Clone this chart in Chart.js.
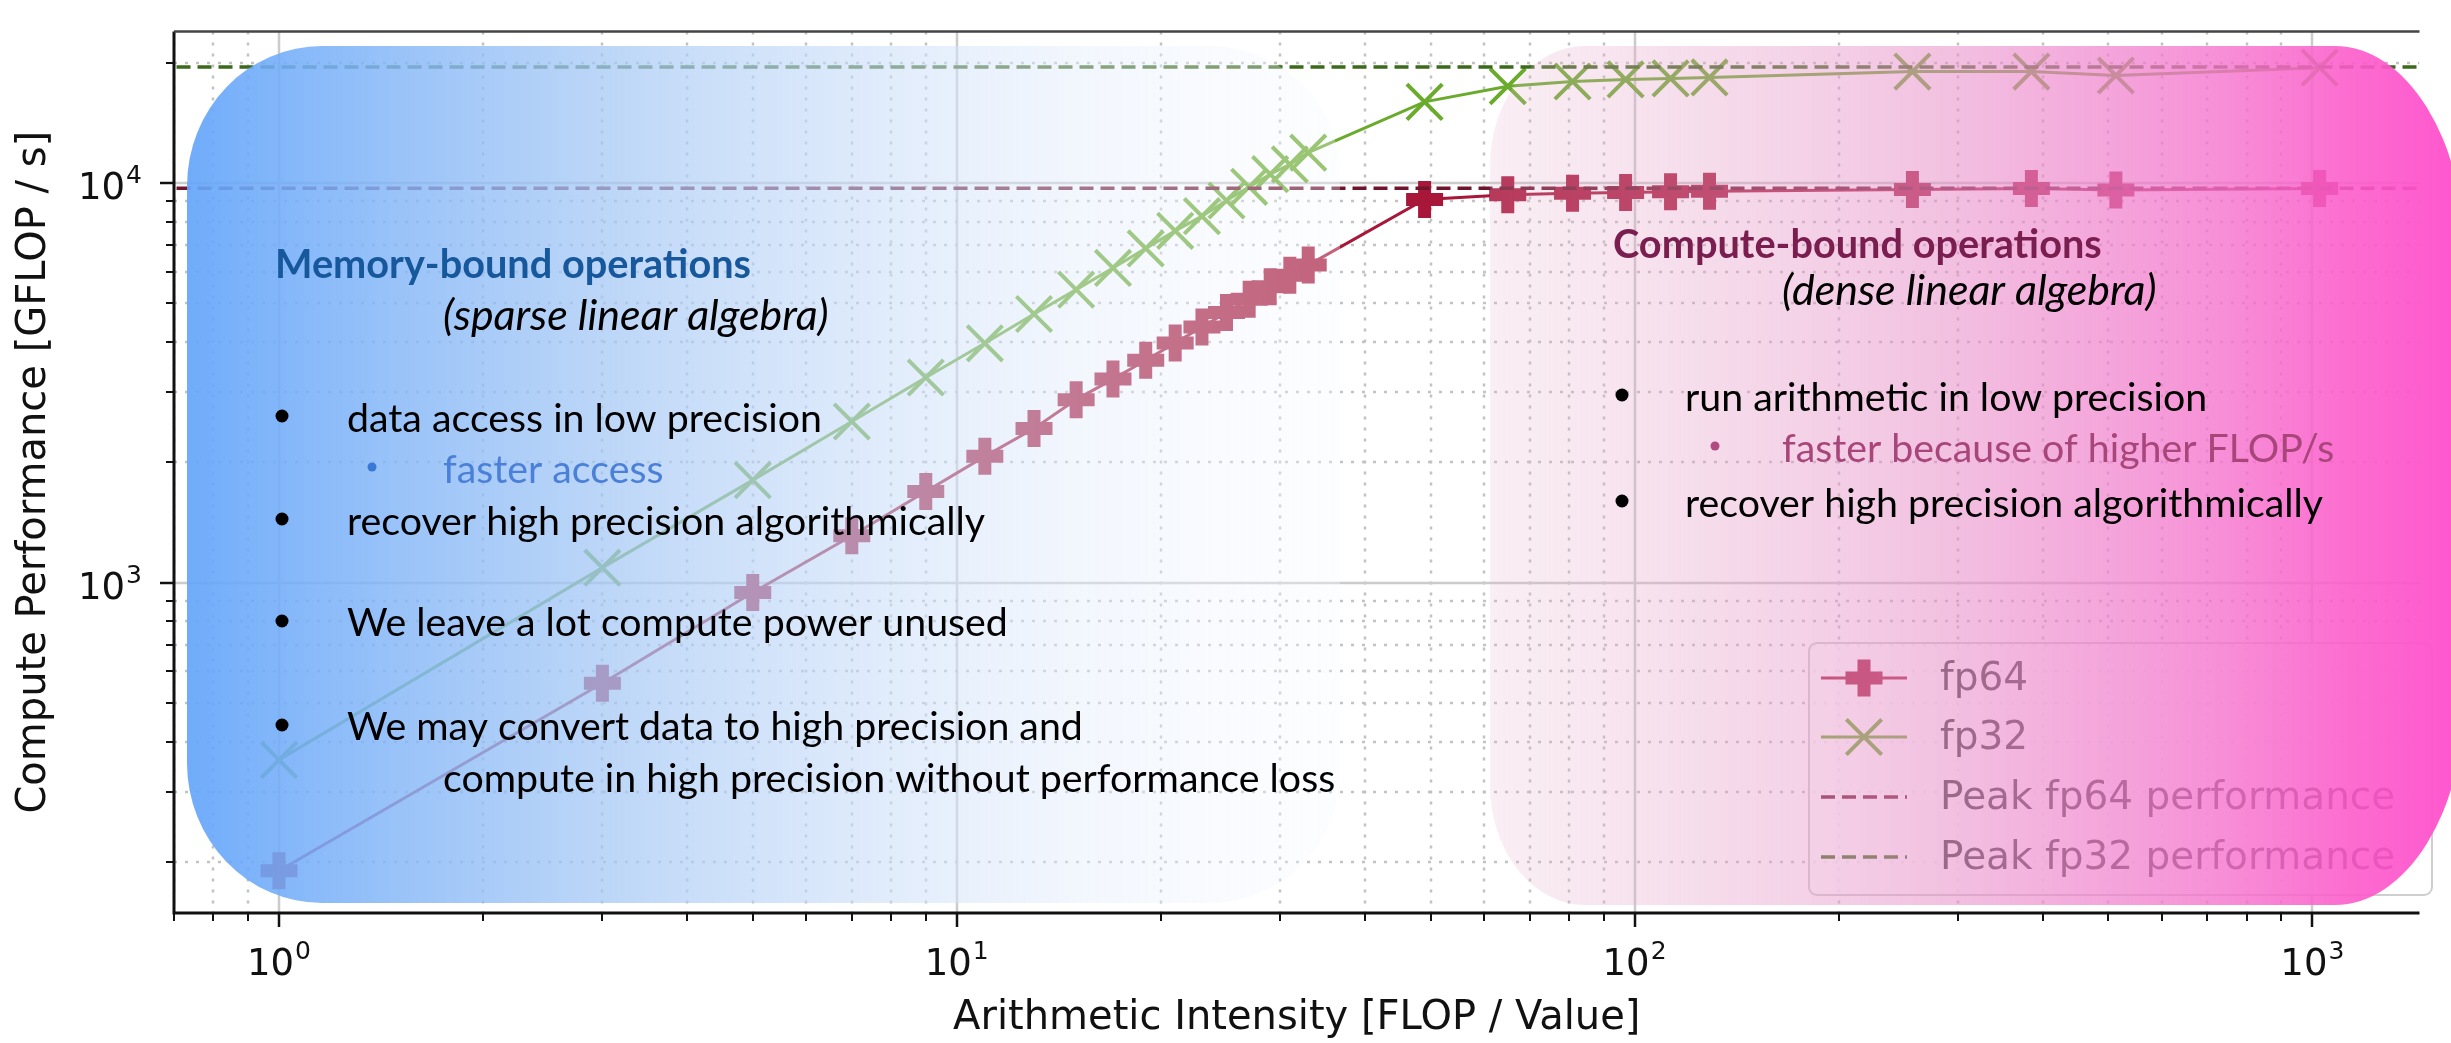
<!DOCTYPE html>
<html><head><meta charset="utf-8">
<script src="https://cdn.jsdelivr.net/npm/chart.js@4.4.1/dist/chart.umd.min.js"></script>
<style>html,body{margin:0;padding:0;background:#fff;overflow:hidden}canvas{display:block}</style>
</head><body>
<canvas id="c" width="2451" height="1043"></canvas>
<script>
// ---------------- data ----------------
const INTENSITY = [1, 3, 5, 7, 9, 11, 13, 15, 17, 19, 21, 23, 25, 27, 29, 31, 33, 49, 65, 81, 97, 113, 129, 257, 385, 513, 1025];
const FP64_PERF = [190, 560, 945, 1310, 1690, 2070, 2430, 2870, 3230, 3600, 3980, 4360, 4740, 5120, 5500, 5880, 6230, 9090, 9350, 9420, 9470, 9510, 9540, 9630, 9690, 9600, 9690];
const FP32_PERF = [360, 1090, 1805, 2530, 3260, 3970, 4700, 5410, 6130, 6860, 7590, 8260, 9040, 9780, 10520, 11130, 11910, 15960, 17460, 17950, 18160, 18270, 18370, 19000, 19000, 18580, 19440];
const PEAK_FP64 = 9700;
const PEAK_FP32 = 19500;
const SERIES_LABELS = ['fp64', 'fp32', 'Peak fp64 performance', 'Peak fp32 performance'];
const X_RANGE = [0.706, 1439];
const Y_RANGE = [149, 23940];
const X_TICKS = [1, 10, 100, 1000];
const X_TICK_LABELS = ['10^0', '10^1', '10^2', '10^3'];
const Y_TICKS = [1000, 10000];
const Y_TICK_LABELS = ['10^3', '10^4'];
const X_TITLE = 'Arithmetic Intensity [FLOP / Value]';
const Y_TITLE = 'Compute Performance [GFLOP / s]';

// ---------------- styles ----------------
const C64 = '#a8173a', C32 = '#6aab2b', CP64 = '#6e142d', CP32 = '#3b6a1a';
const TICK_FONT = '"DejaVu Sans"';
const NOTE_FONT = 'Lato';

// annotation text: style key, left x, baseline y, colour, optional bullet [cx, cy, r, colour]
const NOTES = [
  {t:'Memory-bound operations', s:'bold', x:275, y:278, c:'#17589c'},
  {t:'(sparse linear algebra)', s:'italic', x:443, y:330, c:'#000'},
  {t:'data access in low precision', s:'reg', x:347, y:432, c:'#000', b:[282,416,6.5,'#000']},
  {t:'faster access', s:'reg', x:443, y:483, c:'#4a80d8', b:[372,467,4.5,'#3a78d8']},
  {t:'recover high precision algorithmically', s:'reg', x:347, y:535, c:'#000', b:[282,519,6.5,'#000']},
  {t:'We leave a lot compute power unused', s:'reg', x:347, y:636, c:'#000', b:[282,621,6.5,'#000']},
  {t:'We may convert data to high precision and', s:'reg', x:347, y:740, c:'#000', b:[282,725,6.5,'#000']},
  {t:'compute in high precision without performance loss', s:'reg', x:443, y:792, c:'#000'},
  {t:'Compute-bound operations', s:'bold', x:1613, y:258, c:'#7a1d4f'},
  {t:'(dense linear algebra)', s:'italic', x:1782, y:305, c:'#000'},
  {t:'run arithmetic in low precision', s:'reg', x:1685, y:411, c:'#000', b:[1622,395,6.5,'#000']},
  {t:'faster because of higher FLOP/s', s:'reg', x:1782, y:462, c:'#a8457a', b:[1715,446,4.5,'#b04a80']},
  {t:'recover high precision algorithmically', s:'reg', x:1685, y:517, c:'#000', b:[1622,501,6.5,'#000']}
];
// widths of some lines as seen in the picture, used to size each text style
const STYLE_REFS = {
  bold:   {pre:'bold ',   refs:[['Memory-bound operations',477],['Compute-bound operations',487]]},
  italic: {pre:'italic ', refs:[['(sparse linear algebra)',385],['(dense linear algebra)',376]]},
  reg:    {pre:'',        refs:[['compute in high precision without performance loss',900],['We may convert data to high precision and',735],['We leave a lot compute power unused',663],['data access in low precision',475],['faster access',217]]}
};

function logTicks(min, max) {
  const out = [];
  for (let k = Math.floor(Math.log10(min)); k <= Math.ceil(Math.log10(max)); k++)
    for (let m = 1; m <= 9; m++) { const v = m * Math.pow(10, k); if (v >= min * 0.9999 && v <= max * 1.0001) out.push({v, major: m === 1}); }
  return out;
}
function rrect(ctx, x, y, w, h, rl, rr) {
  ctx.beginPath();
  ctx.moveTo(x + rl[0], y);
  ctx.lineTo(x + w - rr[0], y);
  ctx.ellipse(x + w - rr[0], y + rr[1], rr[0], rr[1], 0, -Math.PI / 2, 0);
  ctx.lineTo(x + w, y + h - rr[1]);
  ctx.ellipse(x + w - rr[0], y + h - rr[1], rr[0], rr[1], 0, 0, Math.PI / 2);
  ctx.lineTo(x + rl[0], y + h);
  ctx.ellipse(x + rl[0], y + h - rl[1], rl[0], rl[1], 0, Math.PI / 2, Math.PI);
  ctx.lineTo(x, y + rl[1]);
  ctx.ellipse(x + rl[0], y + rl[1], rl[0], rl[1], 0, Math.PI, Math.PI * 1.5);
  ctx.closePath();
}
function drawPow(ctx, label, cx, py, mode) {
  const [b, e] = label.split('^');
  ctx.font = '37px ' + TICK_FONT; const wb = ctx.measureText(b).width;
  ctx.font = '25px ' + TICK_FONT; const we = ctx.measureText(e).width;
  const total = wb + we + 1;
  const x0 = mode === 'center' ? cx - total / 2 : cx - total;
  ctx.textAlign = 'left'; ctx.textBaseline = 'alphabetic'; ctx.fillStyle = '#111';
  ctx.font = '37px ' + TICK_FONT; ctx.fillText(b, x0, py);
  ctx.font = '25px ' + TICK_FONT; ctx.fillText(e, x0 + wb + 1, py - 16);
}
function styleFonts(ctx) {
  const fonts = {};
  for (const k in STYLE_REFS) {
    const st = STYLE_REFS[k];
    let sum = 0;
    for (const [t, w] of st.refs) { ctx.font = st.pre + '100px ' + NOTE_FONT; sum += 100 * w / ctx.measureText(t).width; }
    fonts[k] = st.pre + (sum / st.refs.length).toFixed(1) + 'px ' + NOTE_FONT;
  }
  return fonts;
}

const gridPlugin = {
  id: 'grid',
  beforeDatasetsDraw(chart) {
    const {ctx, chartArea: a, scales: {x, y}} = chart;
    ctx.save();
    ctx.beginPath(); ctx.rect(a.left, a.top, a.right - a.left, a.bottom - a.top); ctx.clip();
    const line = (major, x1, y1, x2, y2) => {
      ctx.beginPath();
      if (major) { ctx.setLineDash([]); ctx.strokeStyle = '#cbcbcb'; ctx.lineWidth = 2.5; }
      else { ctx.setLineDash([3, 8]); ctx.strokeStyle = '#c2c2c2'; ctx.lineWidth = 2.5; }
      ctx.moveTo(x1, y1); ctx.lineTo(x2, y2); ctx.stroke();
    };
    for (const t of logTicks(x.min, x.max)) { const p = Math.round(x.getPixelForValue(t.v)); line(t.major, p, a.top, p, a.bottom); }
    for (const t of logTicks(y.min, y.max)) { const p = Math.round(y.getPixelForValue(t.v)); line(t.major, a.left, p, a.right, p); }
    ctx.restore();
  }
};

const overlayPlugin = {
  id: 'overlay',
  afterDatasetsDraw(chart) {
    const {ctx, chartArea: a, scales: {x, y}} = chart;
    const ds = chart.data.datasets;
    ctx.save();
    // ----- legend (under the pink overlay) -----
    const L = {x: 1809, y: 643, w: 623, h: 252};
    ctx.beginPath(); ctx.roundRect(L.x, L.y, L.w, L.h, 8);
    ctx.fillStyle = 'rgba(255,255,255,0.8)'; ctx.fill();
    ctx.strokeStyle = '#cfcfcf'; ctx.lineWidth = 2; ctx.stroke();
    const rows = [678, 737, 797, 857];
    const hx0 = 1821, hx1 = 1907, hc = (hx0 + hx1) / 2;
    ds.forEach((d, i) => {
      const ry = rows[i];
      ctx.save();
      ctx.strokeStyle = d.borderColor; ctx.lineWidth = d.borderWidth;
      ctx.setLineDash(d.borderDash || []);
      ctx.beginPath(); ctx.moveTo(hx0, ry); ctx.lineTo(hx1, ry); ctx.stroke();
      ctx.setLineDash([]);
      if (d.pointStyle === 'cross') {
        ctx.lineWidth = d.pointBorderWidth; ctx.beginPath();
        ctx.moveTo(hc - d.pointRadius, ry); ctx.lineTo(hc + d.pointRadius, ry);
        ctx.moveTo(hc, ry - d.pointRadius); ctx.lineTo(hc, ry + d.pointRadius); ctx.stroke();
      } else if (d.pointStyle === 'crossRot') {
        const o = d.pointRadius * Math.SQRT1_2; ctx.lineWidth = d.pointBorderWidth; ctx.beginPath();
        ctx.moveTo(hc - o, ry - o); ctx.lineTo(hc + o, ry + o);
        ctx.moveTo(hc + o, ry - o); ctx.lineTo(hc - o, ry + o); ctx.stroke();
      }
      ctx.restore();
      ctx.fillStyle = '#333'; ctx.font = '39px ' + TICK_FONT; ctx.textBaseline = 'middle'; ctx.textAlign = 'left';
      ctx.fillText(d.label, 1940, ry + 2);
    });
    // ----- overlay boxes -----
    const bx = 187, bw = 1153, by = 46, bh = 857;
    let g = ctx.createLinearGradient(bx, 0, bx + bw, 0);
    g.addColorStop(0, 'rgba(100,165,250,0.92)');
    g.addColorStop(0.36, 'rgba(165,200,245,0.75)');
    g.addColorStop(0.78, 'rgba(228,237,252,0.45)');
    g.addColorStop(1, 'rgba(248,250,255,0.33)');
    rrect(ctx, bx, by, bw, bh, [135, 140], [130, 130]);
    ctx.fillStyle = g; ctx.fill();
    const px = 1490, pw = 975, py = 46, ph = 859;
    g = ctx.createLinearGradient(px, 0, px + pw, 0);
    g.addColorStop(0, 'rgba(230,180,205,0.22)');
    g.addColorStop(0.46, 'rgba(232,146,202,0.56)');
    g.addColorStop(0.75, 'rgba(245,115,205,0.8)');
    g.addColorStop(0.89, 'rgba(252,90,202,0.9)');
    g.addColorStop(1, 'rgba(255,80,205,0.97)');
    rrect(ctx, px, py, pw, ph, [95, 120], [130, 210]);
    ctx.fillStyle = g; ctx.fill();
    // ----- overlay texts -----
    const fonts = styleFonts(ctx);
    ctx.textBaseline = 'alphabetic'; ctx.textAlign = 'left';
    for (const n of NOTES) {
      if (n.b) { ctx.beginPath(); ctx.arc(n.b[0], n.b[1], n.b[2], 0, Math.PI * 2); ctx.fillStyle = n.b[3]; ctx.fill(); }
      ctx.font = fonts[n.s]; ctx.fillStyle = n.c; ctx.fillText(n.t, n.x, n.y);
    }
    // ----- spines -----
    ctx.strokeStyle = '#111'; ctx.lineWidth = 3; ctx.setLineDash([]);
    ctx.beginPath(); ctx.moveTo(a.left, a.top); ctx.lineTo(a.left, a.bottom); ctx.lineTo(a.right, a.bottom); ctx.stroke();
    ctx.strokeStyle = '#444'; ctx.lineWidth = 2.5;
    ctx.beginPath(); ctx.moveTo(a.left, a.top); ctx.lineTo(a.right, a.top); ctx.stroke();
    // ----- tick marks -----
    ctx.strokeStyle = '#111';
    for (const t of logTicks(x.min, x.max)) {
      const p = Math.round(x.getPixelForValue(t.v));
      ctx.lineWidth = t.major ? 2.5 : 2; ctx.beginPath(); ctx.moveTo(p, a.bottom); ctx.lineTo(p, a.bottom + (t.major ? 14 : 8)); ctx.stroke();
    }
    for (const t of logTicks(y.min, y.max)) {
      const p = Math.round(y.getPixelForValue(t.v));
      ctx.lineWidth = t.major ? 2.5 : 2; ctx.beginPath(); ctx.moveTo(a.left, p); ctx.lineTo(a.left - (t.major ? 14 : 8), p); ctx.stroke();
    }
    // ----- tick labels -----
    X_TICKS.forEach((v, i) => drawPow(ctx, X_TICK_LABELS[i], x.getPixelForValue(v), 975, 'center'));
    Y_TICKS.forEach((v, i) => drawPow(ctx, Y_TICK_LABELS[i], a.left - 32, y.getPixelForValue(v) + 16, 'right'));
    ctx.restore();
  }
};

const toXY = (xs, ys) => xs.map((v, i) => ({x: v, y: ys[i]}));

new Chart(document.getElementById('c'), {
  type: 'scatter',
  data: {
    datasets: [
      {label: SERIES_LABELS[0], data: toXY(INTENSITY, FP64_PERF), showLine: true, borderColor: C64, backgroundColor: C64,
       borderWidth: 3, pointStyle: 'cross', pointRadius: 18.5, pointHoverRadius: 18.5, pointBorderWidth: 13, pointBorderColor: C64, order: 2},
      {label: SERIES_LABELS[1], data: toXY(INTENSITY, FP32_PERF), showLine: true, borderColor: C32, backgroundColor: C32,
       borderWidth: 3, pointStyle: 'crossRot', pointRadius: 25, pointHoverRadius: 25, pointBorderWidth: 4, pointBorderColor: C32, order: 1},
      {label: SERIES_LABELS[2], data: [{x: X_RANGE[0], y: PEAK_FP64}, {x: X_RANGE[1], y: PEAK_FP64}], showLine: true,
       borderColor: CP64, backgroundColor: CP64, borderWidth: 3.5, borderDash: [14, 7], pointRadius: 0, order: 0},
      {label: SERIES_LABELS[3], data: [{x: X_RANGE[0], y: PEAK_FP32}, {x: X_RANGE[1], y: PEAK_FP32}], showLine: true,
       borderColor: CP32, backgroundColor: CP32, borderWidth: 3.5, borderDash: [14, 7], pointRadius: 0, order: 0}
    ]
  },
  options: {
    responsive: false, animation: false, devicePixelRatio: 1, events: [],
    layout: {padding: {top: 11, right: 0, bottom: 0, left: 0}},
    plugins: {legend: {display: false}, tooltip: {enabled: false}},
    scales: {
      x: {type: 'logarithmic', min: X_RANGE[0], max: X_RANGE[1],
          grid: {display: false}, border: {display: false}, ticks: {display: false},
          title: {display: true, text: X_TITLE, color: '#111', font: {family: 'DejaVu Sans', size: 40}, padding: {top: 0, bottom: 0}},
          afterFit(s) { s.height = 130; }},
      y: {type: 'logarithmic', min: Y_RANGE[0], max: Y_RANGE[1],
          grid: {display: false}, border: {display: false}, ticks: {display: false},
          title: {display: true, text: Y_TITLE, color: '#111', font: {family: 'DejaVu Sans', size: 40}, padding: {top: 11, bottom: 0}},
          afterFit(s) { s.width = 174; }}
    }
  },
  plugins: [gridPlugin, overlayPlugin]
});
</script>
</body></html>
